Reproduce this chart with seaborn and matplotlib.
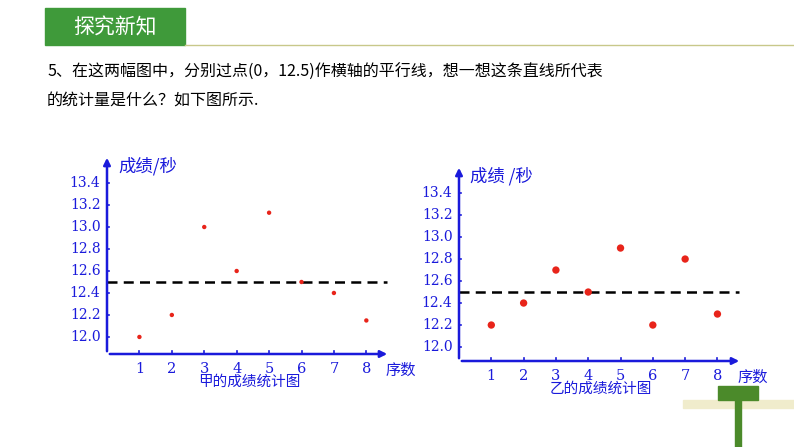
import matplotlib
matplotlib.use("Agg")
import matplotlib.pyplot as plt
import seaborn as sns
import pandas as pd
from matplotlib.patches import Rectangle

order = [1, 2, 3, 4, 5, 6, 7, 8]
jia = [12.0, 12.2, 13.0, 12.6, 13.13, 12.5, 12.4, 12.15]
yi = [12.2, 12.4, 12.7, 12.5, 12.9, 12.2, 12.8, 12.3]
yticks = [12.0, 12.2, 12.4, 12.6, 12.8, 13.0, 13.2, 13.4]
mean_line = 12.5

W, H = 794, 447
fig = plt.figure(figsize=(W/100, H/100), dpi=100)
cjk = "Noto Sans CJK SC"
blue = "#1a1adb"

def fx(px): return px / W
def fy(py): return 1 - py / H

# header
fig.patches.append(Rectangle((fx(45), fy(45)), fx(185)-fx(45), fy(8)-fy(45), transform=fig.transFigure, color="#3f9a3a"))
fig.text(fx(115), fy(27), "探究新知", color="white", fontsize=15, family=cjk, ha="center", va="center")
fig.add_artist(plt.Line2D([fx(185), fx(794)], [fy(45), fy(45)], transform=fig.transFigure, color="#c8c88a", lw=1))
fig.text(fx(47), fy(72), "5、在这两幅图中，分别过点(0，12.5)作横轴的平行线，想一想这条直线所代表", fontsize=11.5, family=cjk, va="center")
fig.text(fx(47), fy(101), "的统计量是什么？如下图所示.", fontsize=11.5, family=cjk, va="center")

# bottom-right decoration
fig.patches.append(Rectangle((fx(683), fy(408)), fx(794)-fx(683), fy(400)-fy(408), transform=fig.transFigure, color="#f0eccc"))
fig.patches.append(Rectangle((fx(718), fy(400)), fx(758)-fx(718), fy(386)-fy(400), transform=fig.transFigure, color="#4b8a2a"))
fig.patches.append(Rectangle((fx(735), fy(447)), fx(741)-fx(735), fy(400)-fy(447), transform=fig.transFigure, color="#4b8a2a"))

def panel(box, xlim, ylim, vals, size, title, ylab):
    l, r, b, t = box
    ax = fig.add_axes([fx(l), fy(b), fx(r)-fx(l), fy(t)-fy(b)])
    ax.set_xlim(*xlim); ax.set_ylim(*ylim)
    for s in ax.spines.values(): s.set_visible(False)
    ax.set_xticks([]); ax.set_yticks([])
    x0, y0 = xlim[0], ylim[0]
    ax.annotate("", xy=(xlim[1], y0), xytext=(x0, y0), annotation_clip=False,
                arrowprops=dict(arrowstyle="-|>", color=blue, lw=1.8, mutation_scale=10))
    ax.annotate("", xy=(x0, ylim[1]), xytext=(x0, y0), annotation_clip=False,
                arrowprops=dict(arrowstyle="-|>", color=blue, lw=1.8, mutation_scale=10))
    for v in yticks:
        ax.plot([x0, x0+0.07], [v, v], color=blue, lw=1.2, clip_on=False)
        ax.text(x0-0.2, v, f"{v:.1f}", color=blue, family="DejaVu Serif", fontsize=10, ha="right", va="center")
    for k in order:
        ax.plot([k, k], [y0, y0+0.03], color=blue, lw=1.2, clip_on=False)
        ax.text(k, y0-0.07, str(k), color=blue, family="DejaVu Serif", fontsize=10.5, ha="center", va="top")
    ax.plot([x0, xlim[1]-0.1], [mean_line, mean_line], color="black", lw=1.8, ls=(0, (4, 2.5)))
    df = pd.DataFrame({"序数": order, "成绩": vals})
    sns.scatterplot(data=df, x="序数", y="成绩", ax=ax, color="#e8241a", s=size, edgecolor="none", marker="o", zorder=5)
    ax.set_xlabel(""); ax.set_ylabel("")
    ax.text(x0+0.35, 13.47, ylab, color=blue, family=cjk, fontsize=12.5, va="bottom")
    ax.text(xlim[1]-0.15, y0-0.07, "序数", color=blue, family=cjk, fontsize=11, va="top")
    ax.text(4.4, y0-0.19, title, color=blue, family=cjk, fontsize=10.5, ha="center", va="top")

panel((107, 390, 354, 155), (0, 8.73), (11.845, 13.655), jia, 10, "甲的成绩统计图", "成绩/秒")
panel((459, 742, 361, 165), (0, 8.76), (11.873, 13.655), yi, 28, "乙的成绩统计图", "成绩 /秒")

fig.savefig("out.png", dpi=100)
